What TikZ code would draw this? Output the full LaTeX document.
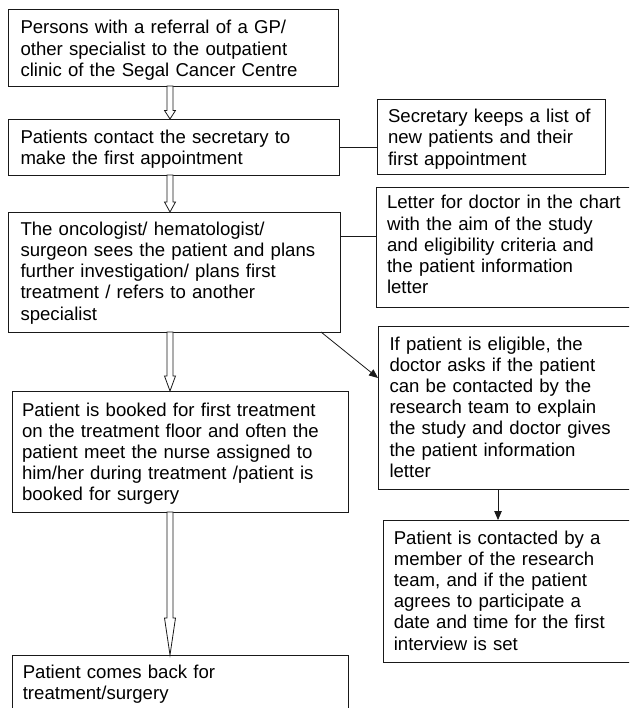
\documentclass[tikz,border=0pt]{standalone}
\usepackage{fontspec}
\setmainfont{Liberation Sans}
\usetikzlibrary{arrows.meta,calc}
\tikzset{
  box/.style={draw=black!90, line width=0.8pt, rectangle, anchor=north west, inner sep=0pt, outer sep=0pt},
  txt/.style={anchor=north west, inner sep=0pt, outer sep=0pt, align=left, text width=#1,
    font=\fontsize{18.6}{21.2}\selectfont},
  txt/.default=325pt,
  link/.style={line width=0.8pt, draw=black!90},
  pointer/.style={link, -{Triangle[length=9pt,width=7.5pt]}},
  blockarr/.style={draw=black!90, line width=0.8pt, fill=white, line join=miter},
}
\newcommand\blockarrow[3]{%
  \draw[blockarr] let \p1=(#1), \p2=(#2) in
    ({\x1-3pt},\y1) -- ({\x1-3pt},{\y2+#3}) -- ({\x1-5.5pt},{\y2+#3}) -- (\x2,\y2)
    -- ({\x1+5.5pt},{\y2+#3}) -- ({\x1+3pt},{\y2+#3}) -- ({\x1+3pt},\y1) -- cycle;}
\newcommand\fl{\rule{0pt}{15pt}}
\begin{document}
\begin{tikzpicture}[x=1pt,y=-1pt]
\useasboundingbox (0,0) rectangle (629,708);
\clip (0,0) rectangle (629,708);
\fill[white] (0,0) rectangle (629,708);

% left column boxes
\node[box, minimum width=330pt, minimum height=77pt]  (b1)  at (8,9)    {};
\node[box, minimum width=331pt, minimum height=56pt]  (b2)  at (8,119)  {};
\node[box, minimum width=332pt, minimum height=120pt] (b3)  at (8,212)  {};
\node[box, minimum width=336pt, minimum height=121pt] (b4)  at (12,391) {};
\node[box, minimum width=336pt, minimum height=80pt]  (b5)  at (12,655) {};
% right column boxes
\node[box, minimum width=228pt, minimum height=75pt]  (sec) at (377,99)  {};
\node[box, minimum width=280pt, minimum height=120pt] (let) at (376,187) {};
\node[box, minimum width=280pt, minimum height=163pt] (ifb) at (378,326) {};
\node[box, minimum width=280pt, minimum height=142pt] (con) at (383,520) {};

% texts
\node[txt] (t1) at ([shift={(12.5,10)}]b1.north west)
  {\fl Persons with a referral of a GP/\\other specialist to the outpatient\\clinic of the Segal Cancer Centre};
\node[txt] (t2) at ([shift={(12.5,9.4)}]b2.north west)
  {\fl Patients contact the secretary to\\make the first appointment};
\node[txt] (t3) at ([shift={(12.5,8.3)}]b3.north west)
  {\fl The oncologist/ hematologist/\\surgeon sees the patient and plans\\further investigation/ plans first\\treatment / refers to another\\specialist};
\node[txt] (t4) at ([shift={(10,10)}]b4.north west)
  {\fl Patient is booked for first treatment\\on the treatment floor and often the\\patient meet the nurse assigned to\\him/her during treatment /patient is\\booked for surgery};
\node[txt] (t5) at ([shift={(10.8,8.4)}]b5.north west)
  {\fl Patient comes back for\\treatment/surgery};
\node[txt=220pt] (tsec) at ([shift={(11,8.7)}]sec.north west)
  {\fl Secretary keeps a list of\\new patients and their\\first appointment};
\node[txt=235pt] (tlet) at ([shift={(11,7)}]let.north west)
  {\fl Letter for doctor in the chart\\with the aim of the study\\and eligibility criteria and\\the patient information\\letter};
\node[txt=235pt] (tifb) at ([shift={(11.5,9)}]ifb.north west)
  {\fl If patient is eligible, the\\doctor asks if the patient\\can be contacted by the\\research team to explain\\the study and doctor gives\\the patient information\\letter};
\node[txt=235pt] (tcon) at ([shift={(10.8,9)}]con.north west)
  {\fl Patient is contacted by a\\member of the research\\team, and if the patient\\agrees to participate a\\date and time for the first\\interview is set};

% hollow block arrows down the left column
\coordinate (col) at (170,0);
\blockarrow{b1.south -| col}{b2.north -| col}{8.5pt}
\blockarrow{b2.south -| col}{b3.north -| col}{10pt}
\blockarrow{b3.south -| col}{b4.north -| col}{15pt}
\blockarrow{b4.south -| col}{b5.north -| col}{37pt}

% plain links to the right column
\draw[link] (b2.east) -- (b2.east -| sec.west);
\coordinate (b3link) at ([yshift=-24pt]b3.north east);
\draw[link] (b3link) -- (b3link -| let.west);

% pointer arrows
\coordinate (diagfrom) at ([xshift=-19pt]b3.south east);
\coordinate (diagto) at ([yshift=-52pt]ifb.north west);
\draw[pointer] (diagfrom) -- (diagto);
\coordinate (downfrom) at ([xshift=120pt]ifb.south west);
\draw[pointer] (downfrom) -- (downfrom |- con.north);
\end{tikzpicture}
\end{document}
